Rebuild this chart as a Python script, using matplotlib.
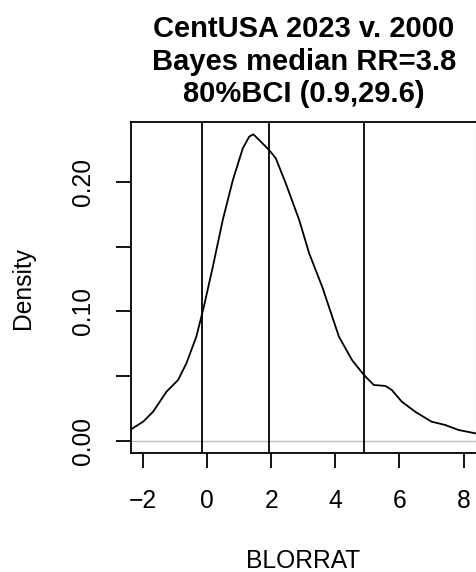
import numpy as np
import matplotlib.pyplot as plt

plt.rcParams['font.family'] = ['Liberation Sans', 'DejaVu Sans']

# posterior density of log2 rate ratio
blorrat = [-2.38, -2.0, -1.69, -1.27, -0.91, -0.65, -0.34, -0.105, 0.175, 0.485,
           0.80, 1.11, 1.31, 1.44, 1.62, 1.93, 2.14, 2.45, 2.87, 3.18, 3.59,
           4.11, 4.52, 4.89, 5.20, 5.56, 5.76, 6.07, 6.49, 7.0, 7.42, 7.84, 8.39]
density = [0.0090, 0.0149, 0.0226, 0.0381, 0.0471, 0.0600, 0.0806, 0.1037, 0.1346,
           0.1707, 0.2015, 0.2260, 0.2350, 0.2368, 0.2324, 0.2247, 0.2183, 0.1990,
           0.1707, 0.1450, 0.1190, 0.0806, 0.0625, 0.0510, 0.0432, 0.0425, 0.0394,
           0.0304, 0.0226, 0.0149, 0.0124, 0.0085, 0.0058]

# median RR and 80% BCI bounds
rr_lower, rr_median, rr_upper = 0.9, 3.8, 29.6

fig = plt.figure(figsize=(4.77, 5.72), dpi=100)
ax = fig.add_axes([131/477, 119/572, 345/477, 331/572])

ax.axhline(0, color='#BEBEBE', lw=1.0, zorder=1)
for v in (rr_lower, rr_median, rr_upper):
    ax.axvline(np.log2(v), color='black', lw=1.3)
ax.plot(blorrat, density, color='black', lw=1.3, solid_joinstyle='round')

ax.set_xlim(-2.38, 8.39)
ax.set_ylim(-0.0093, 0.2463)
ax.set_xticks([-2, 0, 2, 4, 6, 8])
ax.set_xticklabels(['\u22122', '0', '2', '4', '6', '8'])
ax.set_yticks([0, 0.05, 0.10, 0.15, 0.20])
ax.set_yticklabels(['0.00', '', '0.10', '', '0.20'])
ax.tick_params(axis='both', labelsize=17.7, length=11, width=1.3, direction='out')
ax.tick_params(axis='x', pad=15)
ax.tick_params(axis='y', pad=15, labelrotation=90)
for lbl in ax.get_yticklabels():
    lbl.set_va('center')
for s in ax.spines.values():
    s.set_linewidth(1.3)
ax.spines['right'].set_linewidth(0.8)
ax.spines['right'].set_color('#888888')

ax.set_xlabel('BLORRAT', fontsize=17.7, labelpad=26)
ax.set_ylabel('Density', fontsize=17.7, labelpad=26)

fig.text(304/477, 1 - 108/572,
         'CentUSA 2023 v. 2000\nBayes median RR=%.1f\n80%%BCI (%.1f,%.1f)' % (rr_median, rr_lower, rr_upper),
         ha='center', va='bottom', fontsize=21, fontweight='bold', linespacing=1.2)

fig.savefig('out.png', dpi=100)
